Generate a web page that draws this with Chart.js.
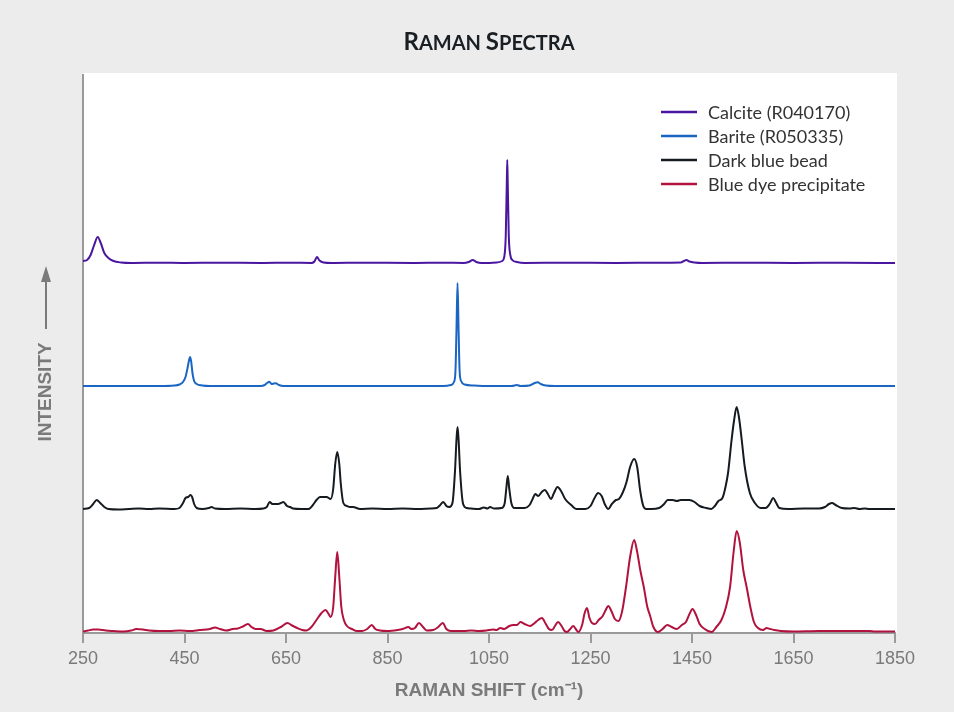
<!DOCTYPE html>
<html>
<head>
<meta charset="utf-8">
<title>Raman Spectra</title>
<script src="https://cdn.jsdelivr.net/npm/chart.js@4.4.0/dist/chart.umd.min.js"></script>
<style>
  html, body { margin: 0; padding: 0; background: #ececec; }
  #wrap { width: 954px; height: 712px; position: relative; }
</style>
</head>
<body>
<div id="wrap"><canvas id="raman" width="954" height="712"></canvas></div>
<script>
// series names and colours
const seriesNames = ['Calcite (R040170)', 'Barite (R050335)', 'Dark blue bead', 'Blue dye precipitate'];
const seriesColors = ['#4a16a0', '#1a66c2', '#151b20', '#b2123e'];

// vertical offset of each stacked spectrum (intensity units)
const seriesOffsets = [370, 247, 124, 1];

// x axis ticks (Raman shift, cm-1)
const shiftTicks = [250, 450, 650, 850, 1050, 1250, 1450, 1650, 1850];

// spectra: [raman shift, intensity above own baseline]
const calcite = [
  [250, 2], [258, 3], [265, 8], [272, 18], [279, 26], [285, 20], [292, 10], [300, 5], [310, 2],
  [325, 0.5], [345, 0], [400, 0.3], [450, 0], [520, 0.3], [600, 0], [660, 0.3], [700, 0],
  [706, 1.5], [711, 6], [716, 2.5], [724, 0.5], [740, 0], [800, 0.3], [900, 0], [960, 0.3],
  [1000, 0], [1010, 1], [1018, 3], [1025, 1], [1035, 0], [1065, 0.5], [1076, 2], [1080, 6],
  [1083, 27], [1085, 78], [1086, 103], [1087, 78], [1089, 27], [1092, 8], [1096, 3], [1105, 1],
  [1120, 0], [1200, 0.3], [1300, 0], [1380, 0.3], [1428, 0.5], [1434, 2], [1439, 3], [1445, 1.5],
  [1455, 0.5], [1470, 0], [1550, 0.3], [1650, 0], [1750, 0.3], [1850, 0]
];

const barite = [
  [250, 0], [350, 0], [400, 0], [430, 0.5], [440, 1.5], [447, 4], [452, 9], [456, 18], [459, 26],
  [461, 29], [463, 25], [466, 12], [469, 5], [474, 2], [485, 0.5], [500, 0], [600, 0], [608, 1],
  [613, 3], [617, 4.3], [622, 2], [626, 2.5], [630, 2.7], [636, 1], [645, 0], [800, 0], [960, 0],
  [975, 1], [981, 4], [984, 16], [986, 58], [988, 103], [990, 58], [992, 16], [995, 5],
  [1002, 1.5], [1020, 0.5], [1050, 0], [1095, 0], [1105, 1], [1112, 0], [1130, 0.5], [1140, 3],
  [1146, 3.7], [1152, 2], [1162, 0.5], [1180, 0], [1400, 0], [1600, 0], [1850, 0]
];

const darkBead = [
  [250, 0], [262, 1], [270, 5], [277, 9], [284, 6], [292, 2], [300, 0], [320, -0.5], [340, 0],
  [360, 0.5], [380, 0], [400, 0.5], [430, 0], [440, 1], [447, 6], [452, 11], [457, 12],
  [462, 14], [465, 12], [469, 5], [474, 1], [485, 0], [498, 1], [503, 2], [510, 0.5], [530, 0],
  [560, 0.5], [590, 0], [605, 0.5], [612, 2], [618, 7], [623, 5], [628, 5], [635, 5], [640, 6],
  [645, 7], [652, 3], [658, 2], [664, 0.5], [680, 0], [694, 0], [703, 4], [710, 9], [717, 12],
  [724, 12], [730, 12], [738, 10], [743, 20], [747, 45], [751, 57], [755, 45], [758, 25],
  [763, 6], [770, 3], [776, 2], [782, 2], [796, 0], [820, 0.5], [850, 0], [880, 0.5], [910, 0],
  [935, 0.5], [947, 1], [954, 4], [960, 7], [966, 3], [972, 2], [978, 6], [983, 38], [986, 70],
  [988, 82], [990, 70], [993, 38], [999, 5], [1006, 1], [1015, 0.5], [1030, 0], [1040, 1.5],
  [1047, 0.5], [1052, 2], [1060, 0.5], [1075, 1], [1081, 6], [1084, 20], [1087, 33], [1090, 20],
  [1094, 6], [1100, 1], [1120, 1], [1130, 4], [1136, 10], [1141, 15], [1147, 13], [1154, 17],
  [1160, 19], [1166, 15], [1172, 10], [1178, 16], [1185, 22], [1192, 18], [1200, 10],
  [1212, 4], [1222, 0], [1240, 0], [1250, 3], [1258, 11], [1265, 16], [1272, 13], [1278, 5],
  [1285, 0], [1292, 5], [1300, 9], [1306, 10], [1314, 17], [1321, 27], [1328, 42], [1336, 50],
  [1342, 42], [1348, 18], [1354, 3], [1360, 0], [1370, 0], [1385, 1], [1395, 5], [1402, 9],
  [1412, 9], [1420, 8], [1428, 9], [1436, 9], [1445, 9], [1455, 7], [1465, 3], [1478, 1],
  [1488, 0], [1495, 3], [1502, 8], [1510, 11], [1516, 22], [1521, 36], [1528, 69], [1533, 89],
  [1538, 102], [1543, 90], [1548, 69], [1554, 42], [1564, 16], [1574, 6], [1585, 1], [1595, 1],
  [1603, 5], [1610, 11], [1616, 6], [1622, 1], [1640, 0], [1670, 0.5], [1700, 0.5], [1712, 2],
  [1720, 5], [1726, 6], [1733, 4], [1745, 1], [1760, 0.5], [1770, 1], [1780, 0], [1790, 0.5],
  [1800, 0], [1850, 0]
];

const blueDye = [
  [250, 0.5], [260, 1.5], [270, 2.5], [280, 2.5], [295, 1.5], [310, 1], [330, 0.5], [345, 1.5],
  [355, 3], [368, 2.5], [380, 1.5], [400, 1], [420, 1], [440, 1.5], [460, 1], [480, 2], [500, 3],
  [510, 4.5], [520, 3], [532, 1.5], [545, 3], [555, 3.5], [565, 5.5], [575, 8], [582, 5],
  [590, 3], [600, 3], [612, 1], [625, 1.5], [640, 5], [653, 9], [662, 6.5], [672, 4], [682, 2],
  [690, 1.5], [700, 5], [710, 12], [720, 19], [728, 22], [734, 18], [738, 15], [743, 25],
  [747, 55], [751, 80], [755, 55], [759, 25], [764, 12], [770, 6], [780, 3], [790, 1], [800, 1],
  [810, 3], [819, 7], [826, 3], [835, 1.5], [850, 1], [870, 2], [880, 3], [891, 5], [897, 3],
  [904, 4], [912, 9], [920, 5], [927, 1.5], [940, 2], [950, 5], [959, 9], [966, 3], [975, 1],
  [990, 1], [1000, 1], [1015, 1.5], [1030, 1], [1045, 1.5], [1058, 2.5], [1065, 2], [1072, 4],
  [1080, 3], [1090, 6], [1098, 7], [1105, 7], [1112, 10], [1120, 8], [1131, 6], [1140, 9],
  [1147, 12], [1154, 14], [1162, 8], [1168, 3], [1174, 2], [1180, 6], [1186, 10], [1193, 6],
  [1199, 1], [1204, 0], [1210, 3], [1216, 6], [1221, 3], [1226, 0], [1234, 8], [1238, 18],
  [1243, 24], [1248, 14], [1253, 9], [1259, 8], [1266, 12], [1274, 16], [1280, 22], [1285, 26],
  [1292, 20], [1298, 13], [1305, 11], [1312, 20], [1320, 45], [1328, 75], [1336, 92],
  [1342, 80], [1348, 62], [1355, 45], [1362, 25], [1367, 17], [1374, 5], [1383, 0], [1392, 3],
  [1401, 7], [1410, 5], [1420, 3], [1430, 7], [1438, 10], [1445, 18], [1451, 23], [1458, 17],
  [1465, 8], [1475, 3], [1489, 0], [1498, 5], [1508, 12], [1517, 25], [1525, 45], [1532, 80],
  [1538, 101], [1544, 90], [1551, 62], [1558, 44], [1565, 25], [1572, 10], [1580, 4],
  [1590, 2], [1597, 4], [1604, 3], [1612, 2], [1625, 1], [1650, 0.5], [1700, 1], [1750, 1],
  [1800, 1], [1810, 0.5], [1850, 0.5]
];

const spectra = [calcite, barite, darkBead, blueDye];

const axisGray = '#9a9a9a';
const labelGray = '#7a7a7a';

// white plot background
const plotBackground = {
  id: 'plotBackground',
  beforeDraw(chart) {
    const {ctx, chartArea: a} = chart;
    ctx.save();
    ctx.fillStyle = '#ffffff';
    ctx.fillRect(a.left, a.top - 2, a.right - a.left + 2, a.bottom - a.top + 2);
    ctx.restore();
  }
};

// small-caps title, y axis label with arrow, legend list
const decorations = {
  id: 'decorations',
  afterDraw(chart) {
    const {ctx} = chart;
    ctx.save();

    // title in small caps
    const parts = [['R', 24], ['AMAN ', 20], ['S', 24], ['PECTRA', 20]];
    let total = 0;
    parts.forEach(p => {
      ctx.font = `bold ${p[1]}px Lato, "Open Sans", sans-serif`;
      total += ctx.measureText(p[0]).width;
    });
    let tx = 489 - total / 2;
    ctx.fillStyle = '#1a1f24';
    ctx.textBaseline = 'alphabetic';
    ctx.textAlign = 'left';
    parts.forEach(p => {
      ctx.font = `bold ${p[1]}px Lato, "Open Sans", sans-serif`;
      ctx.fillText(p[0], tx, 50);
      tx += ctx.measureText(p[0]).width;
    });

    // y axis label
    ctx.save();
    ctx.translate(46, 392);
    ctx.rotate(-Math.PI / 2);
    ctx.font = 'bold 19px "Liberation Sans", Arial, sans-serif';
    ctx.fillStyle = labelGray;
    ctx.textAlign = 'center';
    ctx.textBaseline = 'middle';
    ctx.fillText('INTENSITY', 0, 0);
    ctx.restore();

    // arrow
    ctx.strokeStyle = labelGray;
    ctx.fillStyle = labelGray;
    ctx.lineWidth = 2;
    ctx.beginPath();
    ctx.moveTo(46, 329);
    ctx.lineTo(46, 278);
    ctx.stroke();
    ctx.beginPath();
    ctx.moveTo(46, 266);
    ctx.lineTo(41, 282);
    ctx.lineTo(51, 282);
    ctx.closePath();
    ctx.fill();

    // legend
    ctx.font = '18px Lato, "Open Sans", sans-serif';
    ctx.textAlign = 'left';
    ctx.textBaseline = 'middle';
    chart.data.datasets.forEach((ds, i) => {
      const y = 112 + i * 24;
      ctx.strokeStyle = ds.borderColor;
      ctx.lineWidth = 2.5;
      ctx.beginPath();
      ctx.moveTo(661, y);
      ctx.lineTo(697, y);
      ctx.stroke();
      ctx.fillStyle = '#333333';
      ctx.fillText(ds.label, 708, y + 1);
    });

    ctx.restore();
  }
};

const datasets = spectra.map((points, i) => ({
  label: seriesNames[i],
  data: points.map(p => ({x: p[0], y: p[1] + seriesOffsets[i]})),
  borderColor: seriesColors[i],
  borderWidth: 2,
  pointRadius: 0,
  fill: false,
  cubicInterpolationMode: 'monotone'
}));

const chart = new Chart(document.getElementById('raman').getContext('2d'), {
  type: 'line',
  data: {datasets: datasets},
  options: {
    responsive: false,
    animation: false,
    devicePixelRatio: 1,
    layout: {padding: {left: 83, right: 59, top: 75, bottom: 0}},
    plugins: {
      legend: {display: false},
      title: {display: false},
      tooltip: {enabled: false}
    },
    scales: {
      x: {
        type: 'linear',
        min: 250,
        max: 1850,
        afterBuildTicks: scale => { scale.ticks = shiftTicks.map(v => ({value: v})); },
        ticks: {
          color: labelGray,
          font: {family: '"Liberation Sans", Arial, sans-serif', size: 18},
          padding: 5,
          maxRotation: 0,
          callback: v => String(v)
        },
        grid: {drawOnChartArea: false, drawTicks: true, tickLength: 10, color: axisGray, lineWidth: 2},
        border: {display: true, color: axisGray, width: 2},
        title: {
          display: true,
          text: 'RAMAN SHIFT (cm⁻¹)',
          color: labelGray,
          font: {family: '"Liberation Sans", Arial, sans-serif', size: 19, weight: 'bold'},
          padding: {top: 0, bottom: 10}
        },
        afterFit: scale => { scale.height = 79; }
      },
      y: {
        min: 0,
        max: 558,
        ticks: {display: false},
        grid: {display: false},
        border: {display: true, color: axisGray, width: 2},
        afterFit: scale => { scale.width = 0; }
      }
    }
  },
  plugins: [plotBackground, decorations]
});
</script>
</body>
</html>
